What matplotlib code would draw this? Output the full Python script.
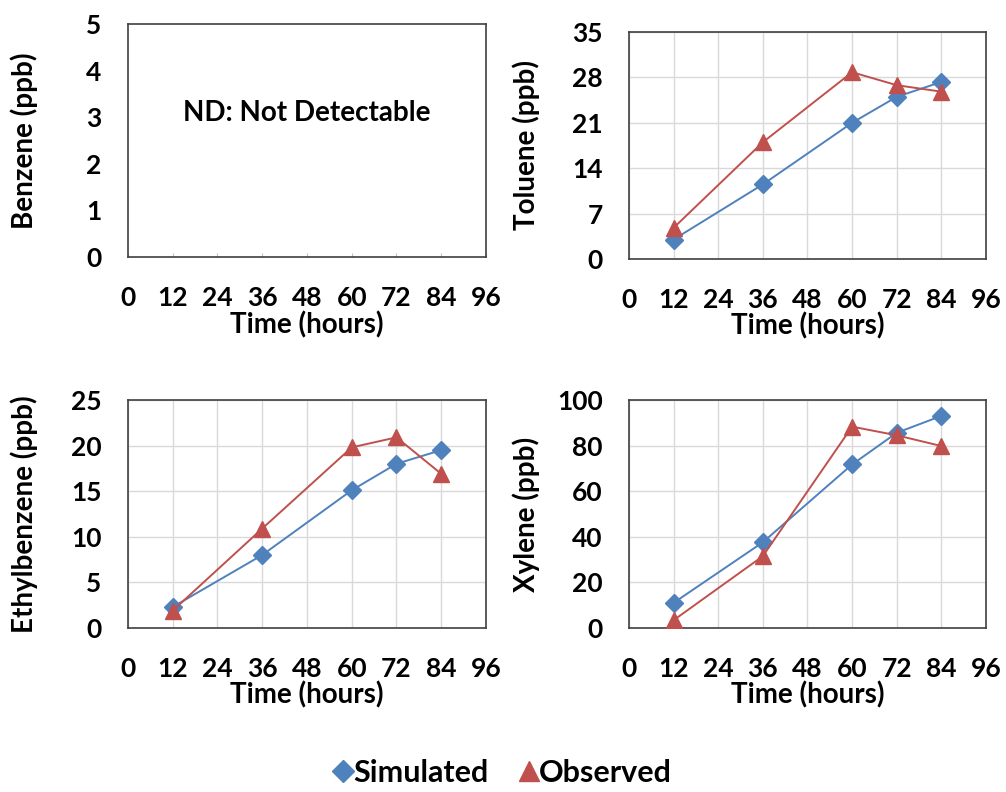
import numpy as np
import matplotlib
matplotlib.use("Agg")
import matplotlib.pyplot as plt
from matplotlib.lines import Line2D

plt.rcParams["font.family"] = ["Lato", "DejaVu Sans"]
plt.rcParams["font.weight"] = "bold"

# ── data ─────────────────────────────────────────────────────────────────────
hours = [12, 36, 60, 72, 84]

toluene_sim = [3.0, 11.5, 21.0, 25.0, 27.3]
toluene_obs = [4.8, 18.0, 28.8, 26.8, 25.8]

ethyl_sim = [2.3, 8.0, 15.1, 18.0, 19.5]
ethyl_obs = [1.9, 10.9, 19.8, 20.9, 16.9]

xylene_sim = [11.0, 37.6, 71.7, 85.6, 93.0]
xylene_obs = [3.4, 31.5, 88.3, 84.5, 79.8]

x_ticks = [0, 12, 24, 36, 48, 60, 72, 84, 96]

BLUE = "#4F81BD"
RED = "#C0504D"
GRID = "#d9d9d9"
SPINE = "#404040"

fig = plt.figure(figsize=(10.06, 7.92), dpi=100, facecolor="white")

def setup(ax, ylabel, ymax, ystep, grid=True):
    ax.set_xlim(0, 96)
    ax.set_ylim(0, ymax)
    ax.set_xticks(x_ticks)
    ax.set_yticks(np.arange(0, ymax + ystep / 2, ystep))
    ax.tick_params(axis="x", length=0, pad=21, labelsize=19)
    ax.tick_params(axis="y", length=0, pad=19, labelsize=19)
    for lbl in ax.get_xticklabels() + ax.get_yticklabels():
        lbl.set_fontweight("bold")
    for sp in ax.spines.values():
        sp.set_color(SPINE)
        sp.set_linewidth(1.2)
    if grid:
        ax.grid(True, color=GRID, lw=1.0)
        ax.set_axisbelow(True)
    ax.set_xlabel("Time (hours)", fontsize=20, fontweight="bold")
    ax.xaxis.set_label_coords(0.5, -0.235)
    ax.set_ylabel(ylabel, fontsize=20, fontweight="bold")
    ax.yaxis.set_label_coords(-0.25, 0.5)

def series(ax, sim, obs):
    ax.plot(hours, sim, color=BLUE, lw=1.4, marker="D", ms=9.5,
            mfc=BLUE, mec=BLUE, zorder=3)
    ax.plot(hours, obs, color=RED, lw=1.4, marker="^", ms=11,
            mfc=RED, mec=RED, zorder=4)

# ── Benzene ──────────────────────────────────────────────────────────────────
ax1 = fig.add_axes([0.1272, 0.6755, 0.3559, 0.2942])
setup(ax1, "Benzene (ppb)", 5, 1, grid=False)
ax1.tick_params(axis="x", length=3, direction="in", color="#bfbfbf")
ax1.text(0.5, 0.62, "ND: Not Detectable", transform=ax1.transAxes,
         ha="center", va="center", fontsize=20, fontweight="bold")

# ── Toluene ──────────────────────────────────────────────────────────────────
ax2 = fig.add_axes([0.6252, 0.673, 0.3549, 0.2866])
setup(ax2, "Toluene (ppb)", 35, 7)
series(ax2, toluene_sim, toluene_obs)

# ── Ethylbenzene ─────────────────────────────────────────────────────────────
ax3 = fig.add_axes([0.1272, 0.2071, 0.3559, 0.2879])
setup(ax3, "Ethylbenzene (ppb)", 25, 5)
series(ax3, ethyl_sim, ethyl_obs)

# ── Xylene ───────────────────────────────────────────────────────────────────
ax4 = fig.add_axes([0.6252, 0.2071, 0.3549, 0.2879])
setup(ax4, "Xylene (ppb)", 100, 20)
series(ax4, xylene_sim, xylene_obs)

# ── legend ───────────────────────────────────────────────────────────────────
handles = [
    Line2D([], [], ls="none", marker="D", ms=11, color=BLUE, label="Simulated"),
    Line2D([], [], ls="none", marker="^", ms=14, color=RED, label="Observed"),
]
leg = fig.legend(handles=handles, loc="center", bbox_to_anchor=(0.5, 0.024),
                 ncol=2, frameon=False, handlelength=0.6, handletextpad=0.05,
                 columnspacing=1.0, prop={"size": 22, "weight": "bold"})

fig.savefig("out.png", dpi=100, facecolor="white")
